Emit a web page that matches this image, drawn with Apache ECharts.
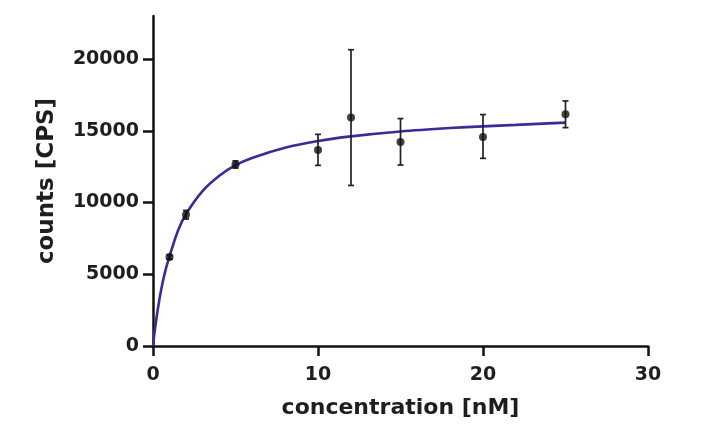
<!DOCTYPE html>
<html><head><meta charset="utf-8">
<script src="https://cdn.jsdelivr.net/npm/echarts@6/dist/echarts.min.js"></script>
<style>html,body{margin:0;padding:0;background:#fff}#c{width:703px;height:439px}</style>
</head><body><div id="c"></div>
<script>
// measured points
const concentrations = [1, 2, 5, 10, 12, 15, 20, 25];
const counts = [6200, 9150, 12650, 13660, 15920, 14220, 14570, 16150];
const errLow = [6050, 8850, 12400, 12590, 11190, 12610, 13080, 15220];
const errHigh = [6350, 9450, 12900, 14750, 20650, 15850, 16130, 17080];
// fitted curve
const fitX = [0, 0.1, 0.25, 0.5, 0.75, 1, 1.5, 2, 3, 4, 5, 6, 8, 10, 12, 15, 18, 20, 22, 25];
const fitY = [0, 1000, 2250, 3950, 5250, 6250, 8000, 9200, 10800, 11850, 12600, 13110, 13820, 14290, 14610, 14950, 15190, 15310, 15410, 15570];
const xTicks = [0, 10, 20, 30];
const yTicks = [0, 5000, 10000, 15000, 20000];

const chart = echarts.init(document.getElementById('c'));
const font = '"DejaVu Sans", sans-serif';
chart.setOption({
  animation: false,
  grid: {left: 153, right: 55, top: 16, bottom: 93},
  xAxis: {
    type: 'value', min: 0, max: 30, interval: 10,
    name: 'concentration [nM]', nameLocation: 'middle', nameGap: 51,
    nameTextStyle: {fontFamily: font, fontWeight: 'bold', fontSize: 22, color: '#1e1e1e'},
    axisLine: {lineStyle: {color: '#111', width: 2.5}},
    axisTick: {length: 10, lineStyle: {color: '#111', width: 2.5}, customValues: xTicks},
    axisLabel: {fontFamily: font, fontWeight: 'bold', fontSize: 19, color: '#1e1e1e', margin: 20,
      customValues: xTicks, formatter: v => String(v)},
    splitLine: {show: false}
  },
  yAxis: {
    type: 'value', min: 0, max: 23000,
    name: 'counts [CPS]', nameLocation: 'middle', nameGap: 94, nameRotate: 90,
    nameTextStyle: {fontFamily: font, fontWeight: 'bold', fontSize: 23, color: '#1e1e1e'},
    axisLine: {show: true, lineStyle: {color: '#111', width: 2.5}},
    axisTick: {show: true, length: 10, lineStyle: {color: '#111', width: 2.5}, customValues: yTicks},
    axisLabel: {fontFamily: font, fontWeight: 'bold', fontSize: 19, color: '#1e1e1e', margin: 14,
      customValues: yTicks, formatter: v => String(v)},
    splitLine: {show: false}
  },
  series: [
    {
      type: 'line', data: fitX.map((x, i) => [x, fitY[i]]), smooth: 0.3, showSymbol: false,
      lineStyle: {color: '#3d2a96', width: 2.6}, z: 2
    },
    {
      type: 'custom', z: 3,
      data: concentrations.map((x, i) => [x, errLow[i], errHigh[i]]),
      renderItem: function (params, api) {
        const lo = api.coord([api.value(0), api.value(1)]);
        const hi = api.coord([api.value(0), api.value(2)]);
        const w = 3;
        const st = {stroke: '#222', lineWidth: 1.7};
        return {type: 'group', children: [
          {type: 'line', shape: {x1: lo[0], y1: lo[1], x2: hi[0], y2: hi[1]}, style: st},
          {type: 'line', shape: {x1: lo[0] - w, y1: lo[1], x2: lo[0] + w, y2: lo[1]}, style: st},
          {type: 'line', shape: {x1: hi[0] - w, y1: hi[1], x2: hi[0] + w, y2: hi[1]}, style: st}
        ]};
      }
    },
    {
      type: 'scatter', z: 4, symbol: 'circle', symbolSize: 8,
      itemStyle: {color: '#111'},
      data: concentrations.map((x, i) => [x, counts[i]])
    }
  ]
});
</script></body></html>
